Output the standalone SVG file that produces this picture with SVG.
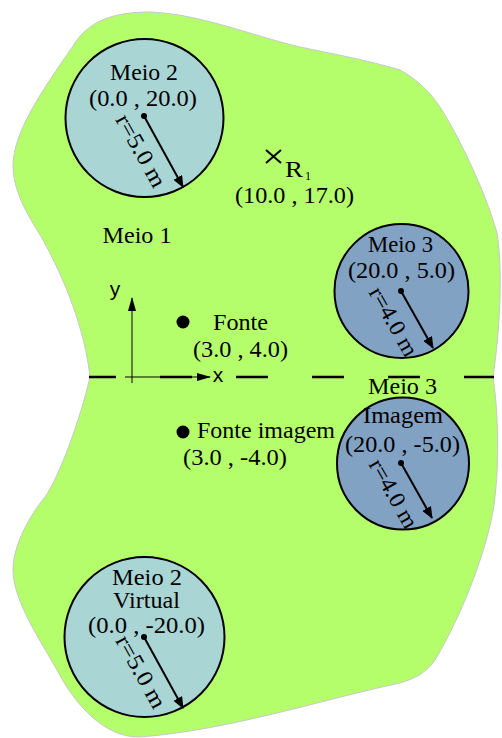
<svg xmlns="http://www.w3.org/2000/svg" width="502" height="738" viewBox="0 0 502 738">
<defs>
<style>
.t{font-family:"Liberation Serif","Times New Roman",serif;font-size:23px;fill:#000}
.s{font-family:"Liberation Sans",Arial,sans-serif;font-size:21px;fill:#000}
.c2{fill:#a9d5d5;stroke:#000;stroke-width:2}
.c3{fill:#82a2c3;stroke:#000;stroke-width:2}
.r{stroke:#000;stroke-width:2;fill:none;marker-end:url(#ah)}
</style>
<marker id="ah" viewBox="0 0 12 10" refX="11" refY="5" markerWidth="12" markerHeight="10" markerUnits="userSpaceOnUse" orient="auto"><path d="M0,0 L12,5 L0,10 z" fill="#000"/></marker>
<marker id="ax" viewBox="0 0 14 8" refX="13" refY="4" markerWidth="14" markerHeight="8" markerUnits="userSpaceOnUse" orient="auto"><path d="M0,0 L14,4 L0,8 z" fill="#000"/></marker>
</defs>
<g id="meio1">
<path d="M90,377 C85,330 65,280 43,240 C30,218 14,195 13,167 C12,130 50,80 77,40 C92,20 115,12 150,12 C200,14 250,35 300,47 C333,54 367,60 400,70 C418,80 430,92 440,107 C458,135 485,190 497,233 C503,270 500,330 493,377 C498,410 500,460 494,505 C488,545 465,610 435,660 C425,675 410,680 400,683 C320,700 230,730 140,737 C105,738 75,705 57,670 C40,640 13,600 13,570 C13,545 30,515 45,497 C60,475 80,420 90,377 Z" fill="#b5fe6b" stroke="#c8c8c8" stroke-width="1"/>
<text class="t" x="137" y="243" text-anchor="middle" textLength="69" lengthAdjust="spacingAndGlyphs">Meio 1</text>
</g>
<g id="connectors">
<line x1="89" y1="377" x2="494" y2="377" stroke="#000" stroke-width="2.5" stroke-dasharray="32 44" stroke-dashoffset="5"/>
<line x1="132" y1="383" x2="132" y2="298" stroke="#000" stroke-opacity="0.65" stroke-width="1.5" marker-end="url(#ax)"/>
<line x1="125" y1="377" x2="210" y2="377" stroke="#000" stroke-width="1.2" marker-end="url(#ax)"/>
<text class="s" x="115" y="296" text-anchor="middle">y</text>
<text class="s" x="218" y="382" text-anchor="middle">x</text>
</g>
<g id="meio2">
<circle class="c2" cx="144.5" cy="118" r="79"/>
<text class="t" x="144" y="80" text-anchor="middle" textLength="68" lengthAdjust="spacingAndGlyphs">Meio 2</text>
<text class="t" x="143" y="106" text-anchor="middle" textLength="108" lengthAdjust="spacingAndGlyphs">(0.0 , 20.0)</text>
<circle cx="144" cy="116" r="3"/>
<line class="r" x1="144" y1="116" x2="183" y2="187"/>
<text class="t" transform="translate(144,116) rotate(61)" x="-11" y="27" textLength="80" lengthAdjust="spacingAndGlyphs">r=5.0 m</text>
</g>
<g id="receptor">
<line x1="266" y1="150" x2="281" y2="163" stroke="#000" stroke-width="2"/>
<line x1="281" y1="150" x2="266" y2="163" stroke="#000" stroke-width="2"/>
<text class="t" x="285" y="177" textLength="18" lengthAdjust="spacingAndGlyphs">R</text>
<text class="t" x="305" y="180" style="font-size:12px">1</text>
<text class="t" x="294.5" y="203" text-anchor="middle" textLength="119" lengthAdjust="spacingAndGlyphs">(10.0 , 17.0)</text>
</g>
<g id="meio3">
<circle class="c3" cx="401.5" cy="291" r="67"/>
<text class="t" x="400.5" y="252" text-anchor="middle" textLength="65" lengthAdjust="spacingAndGlyphs">Meio 3</text>
<text class="t" x="401.5" y="278" text-anchor="middle" textLength="107" lengthAdjust="spacingAndGlyphs">(20.0 , 5.0)</text>
<circle cx="401" cy="291" r="3"/>
<line class="r" x1="401" y1="291" x2="433" y2="348"/>
<text class="t" transform="translate(401,291) rotate(60.5)" x="-15" y="29" textLength="76" lengthAdjust="spacingAndGlyphs">r=4.0 m</text>
</g>
<g id="fonte">
<circle cx="183" cy="322" r="6.5"/>
<text class="t" x="240.5" y="330" text-anchor="middle" textLength="55" lengthAdjust="spacingAndGlyphs">Fonte</text>
<text class="t" x="240.5" y="357" text-anchor="middle" textLength="95" lengthAdjust="spacingAndGlyphs">(3.0 , 4.0)</text>
</g>
<g id="fonte-imagem">
<circle cx="183" cy="432" r="6.5"/>
<text class="t" x="197" y="438" textLength="138" lengthAdjust="spacingAndGlyphs">Fonte imagem</text>
<text class="t" x="235" y="465" text-anchor="middle" textLength="104" lengthAdjust="spacingAndGlyphs">(3.0 , -4.0)</text>
</g>
<g id="meio3-imagem">
<circle class="c3" cx="403" cy="463.5" r="66"/>
<text class="t" x="402.5" y="394" text-anchor="middle" textLength="69" lengthAdjust="spacingAndGlyphs">Meio 3</text>
<text class="t" x="403" y="423" text-anchor="middle" textLength="80" lengthAdjust="spacingAndGlyphs">Imagem</text>
<text class="t" x="402.5" y="452" text-anchor="middle" textLength="115" lengthAdjust="spacingAndGlyphs">(20.0 , -5.0)</text>
<circle cx="401" cy="463" r="3"/>
<line class="r" x1="401" y1="463" x2="432" y2="518"/>
<text class="t" transform="translate(401,463) rotate(60.5)" x="-15" y="29" textLength="76" lengthAdjust="spacingAndGlyphs">r=4.0 m</text>
</g>
<g id="meio2-virtual">
<circle class="c2" cx="144.5" cy="637" r="80"/>
<text class="t" x="147" y="585" text-anchor="middle" textLength="70" lengthAdjust="spacingAndGlyphs">Meio 2</text>
<text class="t" x="146.5" y="608" text-anchor="middle" textLength="67" lengthAdjust="spacingAndGlyphs">Virtual</text>
<text class="t" x="146.5" y="633" text-anchor="middle" textLength="117" lengthAdjust="spacingAndGlyphs">(0.0 , -20.0)</text>
<circle cx="144" cy="637" r="3"/>
<line class="r" x1="144" y1="637" x2="183" y2="708"/>
<text class="t" transform="translate(144,637) rotate(61)" x="-11" y="27" textLength="80" lengthAdjust="spacingAndGlyphs">r=5.0 m</text>
</g>
</svg>
